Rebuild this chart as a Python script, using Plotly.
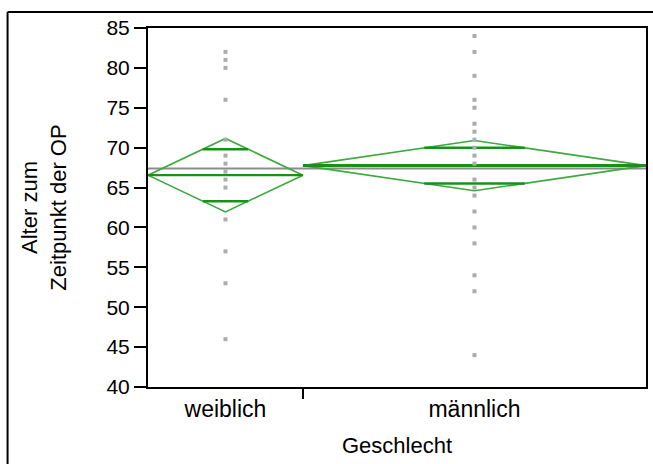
import math
import plotly.graph_objects as go

# ---------------- data ----------------
categories = ["weiblich", "männlich"]
group_sizes = [14, 31]
points_weiblich = [82, 81, 80, 76, 71, 69, 68, 67, 66, 65, 61, 57, 53, 46]
points_maennlich = [84, 82, 79, 76, 75, 73, 72, 71, 70, 69, 68, 66, 65, 64,
                    62, 60, 58, 54, 52, 44]
group_means = [66.55, 67.75]
ci_lower = [61.95, 64.6]
ci_upper = [71.15, 70.9]
grand_mean = 67.4
y_ticks = [40, 45, 50, 55, 60, 65, 70, 75, 80, 85]

# ---------------- styles ----------------
FONT = "Arial, 'Liberation Sans', sans-serif"
DIAMOND_COLOR = "rgb(60,170,60)"
MARK_COLOR = "rgb(25,145,25)"
POINT_COLOR = "#acacac"

edges = [0]
for n in group_sizes:
    edges.append(edges[-1] + n)
total = edges[-1]
centers = [(edges[i] + edges[i + 1]) / 2 for i in range(len(categories))]

fig = go.Figure()

# grand mean line
fig.add_trace(go.Scatter(x=[0, total], y=[grand_mean, grand_mean], mode="lines",
                         line=dict(color="#8c8c8c", width=2), hoverinfo="skip",
                         showlegend=False))

all_points = [points_weiblich, points_maennlich]
for i, cat in enumerate(categories):
    x0, x1, xc = edges[i], edges[i + 1], centers[i]
    m, lo, hi = group_means[i], ci_lower[i], ci_upper[i]
    # diamond
    fig.add_trace(go.Scatter(x=[x0, xc, x1, xc, x0], y=[m, hi, m, lo, m], mode="lines",
                             line=dict(color=DIAMOND_COLOR, width=1.6), hoverinfo="skip",
                             showlegend=False))
    # mean line
    fig.add_trace(go.Scatter(x=[x0, x1], y=[m, m], mode="lines",
                             line=dict(color=MARK_COLOR, width=2.2 if i == 0 else 3),
                             hoverinfo="skip", showlegend=False))
    # overlap marks
    half = (hi - lo) / 2
    off = half / math.sqrt(2)
    hw = (x1 - x0) / 2 * (1 - 1 / math.sqrt(2))
    for yv in (m + off, m - off):
        fig.add_trace(go.Scatter(x=[xc - hw, xc + hw], y=[yv, yv], mode="lines",
                                 line=dict(color=MARK_COLOR, width=2.5),
                                 hoverinfo="skip", showlegend=False))
    # points
    pts = all_points[i]
    fig.add_trace(go.Scatter(x=[xc] * len(pts), y=pts, mode="markers",
                             marker=dict(symbol="square", size=4, color=POINT_COLOR,
                                         line=dict(width=0)),
                             showlegend=False, name=cat))

fig.update_layout(
    width=653, height=464,
    margin=dict(l=148, r=5, t=28, b=77),
    paper_bgcolor="white", plot_bgcolor="white",
    font=dict(family=FONT, size=21, color="black"),
    xaxis=dict(range=[0, total], tickvals=centers, ticktext=categories, ticks="",
               showgrid=False, zeroline=False, showline=True, linecolor="black",
               linewidth=2, mirror=True, tickfont=dict(size=23),
               title=dict(text="Geschlecht", font=dict(size=22), standoff=17)),
    xaxis2=dict(range=[0, total], overlaying="x", anchor="y", side="bottom",
                tickvals=edges[1:-1], ticks="outside", ticklen=11, tickwidth=2,
                tickcolor="black", showticklabels=False, showgrid=False,
                zeroline=False, showline=False),
    yaxis=dict(range=[40, 85], tickvals=y_ticks, ticks="outside", ticklen=12,
               tickwidth=2, tickcolor="black", showgrid=False, zeroline=False,
               showline=True, linecolor="black", linewidth=2, mirror=True,
               tickfont=dict(size=21),
               title=dict(text="Alter zum<br>Zeitpunkt der OP", font=dict(size=22),
                          standoff=34)),
    shapes=[
        dict(type="line", xref="paper", yref="paper", x0=-0.282, x1=1.1,
             y0=1.0446, y1=1.0446, line=dict(color="black", width=2)),
        dict(type="line", xref="paper", yref="paper", x0=-0.282, x1=-0.282,
             y0=1.0446, y1=-0.3, line=dict(color="black", width=2)),
    ],
)

# attach an invisible trace to xaxis2 so it renders
fig.add_trace(go.Scatter(x=[0], y=[40], xaxis="x2", mode="markers",
                         marker=dict(opacity=0), hoverinfo="skip", showlegend=False))

fig.write_html("out.html")
